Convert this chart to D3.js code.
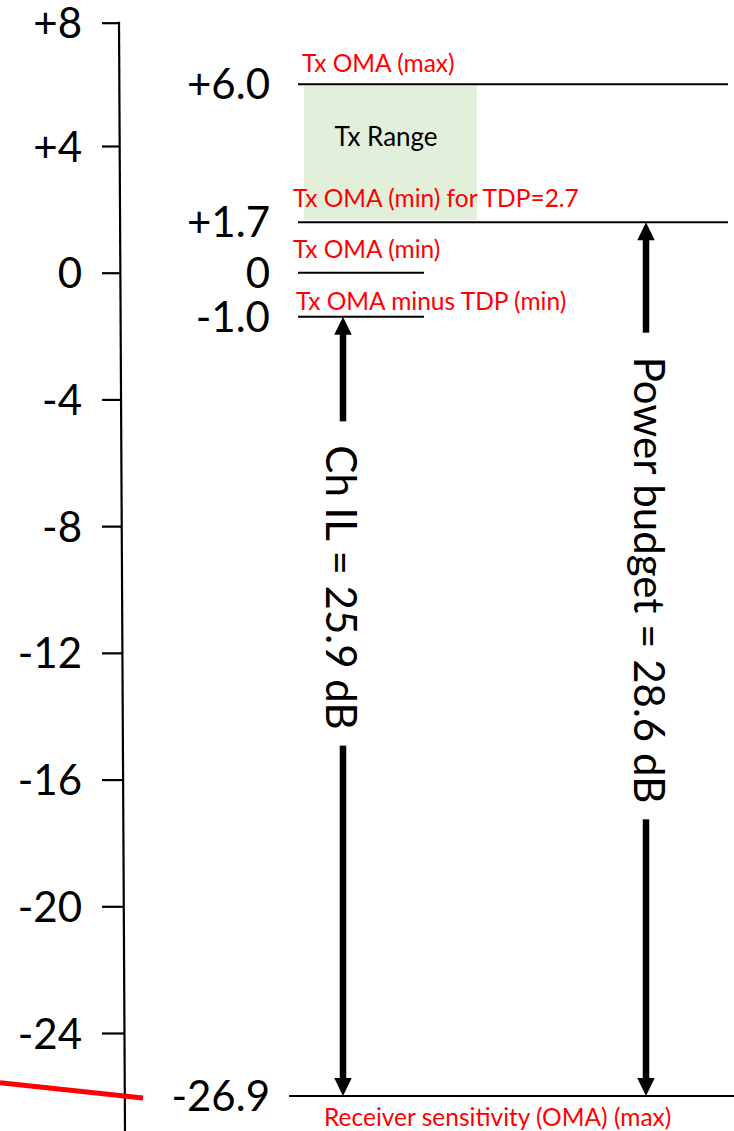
<!DOCTYPE html>
<html>
<head>
<meta charset="utf-8">
<script src="https://cdn.jsdelivr.net/npm/d3@7"></script>
<style>
  html, body { margin: 0; padding: 0; background: #fff; }
  svg { display: block; }
  text { font-family: Lato, "Open Sans", "DejaVu Sans", sans-serif; }
</style>
</head>
<body>
<svg id="chart" width="734" height="1131"></svg>
<script>
// ---------------- data ----------------
const axisTicks = [8, 4, 0, -4, -8, -12, -16, -20, -24];
const axisTickLabels = ["+8", "+4", "0", "-4", "-8", "-12", "-16", "-20", "-24"];

// levels on the right: label text, caption, and where each is drawn on the axis
const levelLabels = ["+6.0", "+1.7", "0", "-1.0", "-26.9"];
const levelCaptions = [
  "Tx OMA (max)",
  "Tx OMA (min) for TDP=2.7",
  "Tx OMA (min)",
  "Tx OMA minus TDP (min)",
  "Receiver sensitivity (OMA) (max)"
];
const levelDrawn = [6.0, 1.59, 0.0, -1.39, -25.99];

// Tx range band: between level 0 and level 1
const txRangeLabel = "Tx Range";
const txRangeLevels = [0, 1];

// dimension arrows: from level index to level index
const arrowLabels = ["Ch IL = 25.9 dB", "Power budget = 28.6 dB"];
const arrowTopLevel = [3, 1];
const arrowBottomLevel = [4, 4];

// red line fragment at lower left (axis units at its two ends)
const redLineLevels = [-25.57, -26.05];

// ---------------- layout ----------------
const W = 734, H = 1131;
const svg = d3.select("#chart");
// the hand-drawn axis has a slightly shorter top interval
const y = d3.scaleLinear().domain([8, 4, -24]).range([22.7, 146, 1033]);

const axisX0 = 119, axisXBottom = 125;
const axisXAt = yy => axisX0 + (yy - y(8)) * (axisXBottom - axisX0) / (H - y(8));

const bigFont = 42, smallFont = 24.5;

// ---- left axis ----
const axis = d3.axisLeft(y)
  .tickValues(axisTicks)
  .tickFormat((d, i) => axisTickLabels[i])
  .tickSize(17)
  .tickPadding(20)
  .tickSizeOuter(0);

const gAxis = svg.append("g").attr("transform", `translate(${axisX0},0)`).call(axis);
gAxis.select(".domain").remove();
gAxis.selectAll(".tick line")
  .attr("stroke", "#000").attr("stroke-width", 2.2)
  .attr("x1", d => axisXAt(y(d)) - axisX0);
gAxis.selectAll(".tick text")
  .attr("fill", "#000")
  .attr("font-size", bigFont)
  .attr("font-family", "Lato, sans-serif")
  .attr("dy", "0.36em");

svg.append("line")
  .attr("x1", axisXAt(y(8))).attr("y1", y(8) - 1)
  .attr("x2", axisXBottom).attr("y2", H)
  .attr("stroke", "#000").attr("stroke-width", 2.2);

// ---- red line fragment ----
svg.append("line")
  .attr("x1", 0).attr("y1", y(redLineLevels[0]))
  .attr("x2", 143).attr("y2", y(redLineLevels[1]))
  .attr("stroke", "#ff0000").attr("stroke-width", 5);

// ---- Tx range band ----
const bandTop = y(levelDrawn[txRangeLevels[0]]) + 1.5;
const bandBot = y(levelDrawn[txRangeLevels[1]]) - 2.5;
svg.append("rect")
  .attr("x", 304).attr("y", bandTop)
  .attr("width", 173).attr("height", bandBot - bandTop)
  .attr("fill", "#e2efda");
svg.append("text")
  .attr("x", 386).attr("y", 146)
  .attr("text-anchor", "middle")
  .attr("font-size", 26)
  .attr("fill", "#000")
  .text(txRangeLabel);

// ---- level lines, labels and captions ----
const lineX1 = [298, 298, 298, 298, 289];
const lineX2 = [728, 728, 424, 424, 734];
const capX = [302, 293, 293, 296, 324];
const capDy = [-12.6, -15.6, -15, -6.7, 30];

const gLev = svg.append("g");
levelDrawn.forEach((v, i) => {
  const yy = y(v);
  gLev.append("line")
    .attr("x1", lineX1[i]).attr("x2", lineX2[i])
    .attr("y1", yy).attr("y2", yy)
    .attr("stroke", "#000").attr("stroke-width", 2);
  gLev.append("text")
    .attr("x", 270).attr("y", yy).attr("dy", "0.36em")
    .attr("text-anchor", "end")
    .attr("font-size", bigFont).attr("fill", "#000")
    .text(levelLabels[i]);
  gLev.append("text")
    .attr("x", capX[i]).attr("y", yy + capDy[i])
    .attr("font-size", smallFont).attr("fill", "#ff0000")
    .text(levelCaptions[i]);
});

// ---- dimension arrows ----
const arrowX = [343, 646];
const arrowTextCenter = [587.5, 580];
const arrowTextDy = [17, 12];
const shaftW = 6.5, headW = 17.5, headL = 18;

arrowLabels.forEach((lab, i) => {
  const x = arrowX[i];
  const yTop = y(levelDrawn[arrowTopLevel[i]]);
  const yBot = y(levelDrawn[arrowBottomLevel[i]]);
  const g = svg.append("g");
  const t = g.append("text")
    .attr("transform", `translate(${x},${arrowTextCenter[i]}) rotate(90)`)
    .attr("y", arrowTextDy[i])
    .attr("text-anchor", "middle")
    .attr("font-size", bigFont).attr("fill", "#000")
    .text(lab);
  const len = t.node().getComputedTextLength();
  const segTopEnd = arrowTextCenter[i] - len / 2 - 24;
  const segBotStart = arrowTextCenter[i] + len / 2 + 16;
  // shafts
  g.append("rect").attr("x", x - shaftW / 2).attr("y", yTop + headL - 1)
    .attr("width", shaftW).attr("height", segTopEnd - yTop - headL + 1).attr("fill", "#000");
  g.append("rect").attr("x", x - shaftW / 2).attr("y", segBotStart)
    .attr("width", shaftW).attr("height", yBot - headL + 1 - segBotStart).attr("fill", "#000");
  // heads
  g.append("path")
    .attr("d", `M${x},${yTop} L${x + headW / 2},${yTop + headL} L${x - headW / 2},${yTop + headL} Z`)
    .attr("fill", "#000");
  g.append("path")
    .attr("d", `M${x},${yBot} L${x + headW / 2},${yBot - headL} L${x - headW / 2},${yBot - headL} Z`)
    .attr("fill", "#000");
});
</script>
</body>
</html>
